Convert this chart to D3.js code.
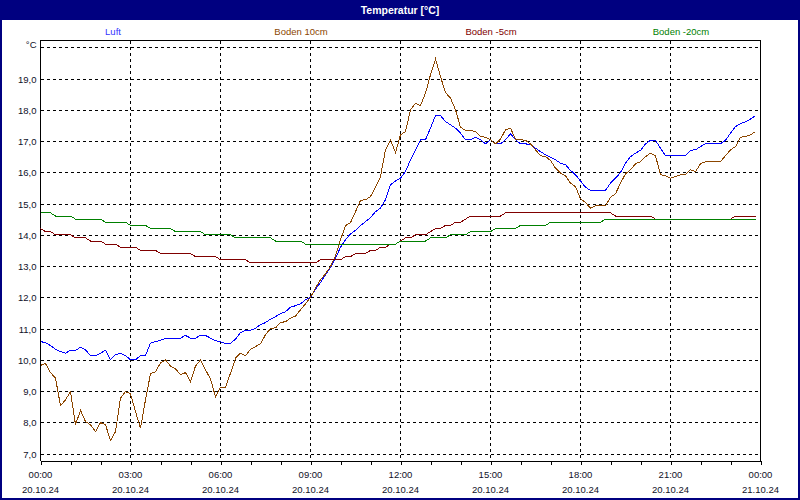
<!DOCTYPE html>
<html>
<head>
<meta charset="utf-8">
<script src="https://cdn.jsdelivr.net/npm/d3@7"></script>
<style>
  html, body { margin: 0; padding: 0; background: #fff; }
  svg { display: block; }
  text { font-family: "Liberation Sans", Arial, sans-serif; }
</style>
</head>
<body>
<svg id="chart" width="800" height="500"></svg>
<script>
// ---- data (10-minute readings, 20.10.24 00:00 .. 23:50) ----
const seriesNames = ["Luft", "Boden 10cm", "Boden -5cm", "Boden -20cm"];
const hourTicks = [0,1,2,3,4,5,6,7,8,9,10,11,12,13,14,15,16,17,18,19,20,21,22,23,24];
const timeLabels = ["00:00","03:00","06:00","09:00","12:00","15:00","18:00","21:00","00:00"];
const dateLabels = ["20.10.24","20.10.24","20.10.24","20.10.24","20.10.24","20.10.24","20.10.24","20.10.24","21.10.24"];
const labelHours = [0,3,6,9,12,15,18,21,24];
const yTicks = [7,8,9,10,11,12,13,14,15,16,17,18,19,20];

const luft = [
  10.58,10.55,10.45,10.34,10.26,10.21,10.30,10.30,10.40,10.32,10.13,10.13,
  10.21,10.30,10.00,10.16,10.21,10.13,10.00,10.00,10.13,10.13,10.53,10.58,
  10.62,10.69,10.69,10.69,10.69,10.78,10.69,10.69,10.78,10.78,10.69,10.61,
  10.58,10.51,10.53,10.66,10.87,10.94,10.94,11.01,11.12,11.19,11.30,11.38,
  11.47,11.54,11.68,11.73,11.79,11.92,12.00,12.26,12.47,12.72,12.95,13.25,
  13.60,13.84,14.03,14.14,14.29,14.42,14.55,14.74,14.85,15.12,15.60,15.72,
  15.81,16.02,16.40,16.72,17.04,17.04,17.41,17.81,17.81,17.62,17.52,17.41,
  17.25,17.04,17.04,17.12,17.04,16.91,17.04,16.91,16.91,17.04,17.23,17.04,
  16.91,16.91,16.88,16.77,16.66,16.56,16.48,16.40,16.29,16.24,16.06,15.92,
  15.72,15.52,15.42,15.42,15.42,15.42,15.65,15.81,15.99,16.29,16.50,16.61,
  16.70,16.91,17.02,17.02,16.77,16.53,16.53,16.53,16.53,16.53,16.70,16.72,
  16.82,16.91,16.91,16.91,16.91,17.02,17.25,17.46,17.55,17.62,17.70,17.81
];
const boden10 = [
  9.82,9.88,9.59,9.41,8.53,8.72,8.98,7.92,8.38,8.02,7.92,7.70,
  7.99,7.92,7.42,7.70,8.77,8.98,8.91,8.34,7.81,8.72,9.55,9.62,
  9.90,9.99,9.80,9.71,9.52,9.59,9.30,9.80,9.99,9.68,9.38,8.82,
  9.12,9.12,9.57,10.05,10.21,10.13,10.34,10.42,10.51,10.80,11.00,11.02,
  11.19,11.22,11.33,11.40,11.60,11.79,12.00,12.29,12.56,12.75,12.98,13.33,
  13.84,14.29,14.39,14.74,15.10,15.12,15.22,15.52,15.86,16.72,17.04,16.63,
  17.20,17.30,18.00,18.21,18.13,18.53,19.12,19.62,19.06,18.55,18.37,18.00,
  17.44,17.34,17.34,17.30,17.14,17.12,17.04,16.91,17.06,17.36,17.41,17.06,
  17.04,17.02,16.91,16.72,16.53,16.50,16.38,16.13,15.97,15.89,15.65,15.54,
  15.15,15.03,14.85,14.93,14.93,14.93,15.20,15.31,15.65,15.95,16.08,16.27,
  16.34,16.50,16.61,16.53,15.92,15.89,15.81,15.86,15.92,15.92,16.08,16.02,
  16.27,16.34,16.34,16.34,16.34,16.53,16.72,16.82,17.12,17.14,17.20,17.30
];
const boden5 = [
  14.2,14.1,14.1,14.0,14.0,14.0,14.0,13.9,13.9,13.9,13.8,13.8,
  13.8,13.7,13.7,13.7,13.6,13.6,13.6,13.6,13.5,13.5,13.5,13.5,
  13.4,13.4,13.4,13.4,13.4,13.4,13.4,13.3,13.3,13.3,13.3,13.3,
  13.2,13.2,13.2,13.2,13.2,13.2,13.1,13.1,13.1,13.1,13.1,13.1,
  13.1,13.1,13.1,13.1,13.1,13.1,13.1,13.1,13.2,13.2,13.2,13.2,
  13.2,13.3,13.3,13.4,13.4,13.4,13.5,13.5,13.6,13.6,13.7,13.7,
  13.8,13.9,13.9,14.0,14.0,14.0,14.1,14.2,14.2,14.3,14.3,14.4,
  14.4,14.5,14.6,14.6,14.6,14.6,14.6,14.6,14.6,14.7,14.7,14.7,
  14.7,14.7,14.7,14.7,14.7,14.7,14.7,14.7,14.7,14.7,14.7,14.7,
  14.7,14.7,14.7,14.7,14.7,14.7,14.7,14.6,14.6,14.6,14.6,14.6,
  14.6,14.6,14.6,14.5,14.5,14.5,14.5,14.5,14.5,14.5,14.5,14.5,
  14.5,14.5,14.5,14.5,14.5,14.5,14.5,14.6,14.6,14.6,14.6,14.6
];
const boden20 = [
  14.7,14.7,14.7,14.6,14.6,14.6,14.6,14.5,14.5,14.5,14.5,14.5,
  14.5,14.4,14.4,14.4,14.4,14.4,14.3,14.3,14.3,14.3,14.2,14.2,
  14.2,14.2,14.2,14.1,14.1,14.1,14.1,14.1,14.1,14.0,14.0,14.0,
  14.0,14.0,14.0,13.9,13.9,13.9,13.9,13.9,13.9,13.9,13.9,13.8,
  13.8,13.8,13.8,13.8,13.8,13.7,13.7,13.7,13.7,13.7,13.7,13.7,
  13.7,13.7,13.7,13.7,13.7,13.7,13.7,13.7,13.7,13.7,13.7,13.7,
  13.8,13.8,13.8,13.8,13.8,13.8,13.9,13.9,13.9,13.9,14.0,14.0,
  14.0,14.0,14.1,14.1,14.1,14.1,14.1,14.2,14.2,14.2,14.2,14.2,
  14.3,14.3,14.3,14.3,14.3,14.3,14.4,14.4,14.4,14.4,14.4,14.4,
  14.4,14.4,14.4,14.4,14.4,14.5,14.5,14.5,14.5,14.5,14.5,14.5,
  14.5,14.5,14.5,14.5,14.5,14.5,14.5,14.5,14.5,14.5,14.5,14.5,
  14.5,14.5,14.5,14.5,14.5,14.5,14.5,14.5,14.5,14.5,14.5,14.5
];
const seriesValues = [luft, boden10, boden5, boden20];
const seriesColors = ["#0000ff", "#8c4600", "#800000", "#008000"];
const legendColors = ["#3333ff", "#8c4600", "#800000", "#008000"];

// ---- layout ----
const svg = d3.select("#chart");
const W = 800, H = 500;
const plot = { left: 40.5, right: 760.5, top: 40.5, bottom: 460.5 };
const textColor = "#101028";

svg.append("rect").attr("x", 0).attr("y", 0).attr("width", W).attr("height", H).attr("fill", "#fff");

// title bar
svg.append("rect").attr("x", 0).attr("y", 0).attr("width", W).attr("height", 20).attr("fill", "#000080");
svg.append("text").attr("x", 400).attr("y", 9.5).attr("text-anchor", "middle")
  .attr("dominant-baseline", "central").attr("fill", "#fff")
  .attr("font-size", "10.5px").attr("font-weight", "bold").text("Temperatur [°C]");

// frame
svg.append("path").attr("d", `M1,20 V499 H799 V20`).attr("fill", "none")
  .attr("stroke", "#000080").attr("stroke-width", 2);

const x = d3.scaleLinear().domain([0, 24]).range([plot.left, plot.right]);
const y = d3.scaleLinear().domain([6.776, 20.216]).range([plot.bottom, plot.top]);

// legend
const legendX = [113, 301, 491, 681];
seriesNames.forEach((n, i) => {
  svg.append("text").attr("x", legendX[i]).attr("y", 31).attr("text-anchor", "middle")
    .attr("dominant-baseline", "central").attr("font-size", "9.5px")
    .attr("fill", legendColors[i]).text(n);
});

// grid
const grid = svg.append("g").attr("stroke", "#000").attr("stroke-dasharray", "3,3")
  .attr("shape-rendering", "crispEdges");
yTicks.forEach(v => {
  grid.append("line").attr("x1", plot.left).attr("x2", plot.right)
    .attr("y1", Math.round(y(v)) + 0.5).attr("y2", Math.round(y(v)) + 0.5);
});
labelHours.slice(1, -1).forEach(h => {
  grid.append("line").attr("x1", x(h)).attr("x2", x(h))
    .attr("y1", plot.top).attr("y2", plot.bottom);
});

// plot border (top/right)
svg.append("path").attr("d", `M${plot.left},${plot.bottom} V${plot.top} H${plot.right} V${plot.bottom}`)
  .attr("fill", "none").attr("stroke", "#000").attr("shape-rendering", "crispEdges");

// x axis
const xAxis = d3.axisBottom(x).tickValues(hourTicks).tickSize(4).tickFormat("");
const gx = svg.append("g").attr("transform", `translate(0,${plot.bottom})`).call(xAxis);
gx.select(".domain").attr("stroke", "#000").attr("shape-rendering", "crispEdges");
gx.selectAll(".tick line").attr("stroke", "#000").attr("shape-rendering", "crispEdges");

labelHours.forEach((h, i) => {
  svg.append("text").attr("x", x(h)).attr("y", 474).attr("text-anchor", "middle")
    .attr("dominant-baseline", "central").attr("font-size", "9.5px").attr("fill", textColor)
    .text(timeLabels[i]);
  svg.append("text").attr("x", x(h)).attr("y", 489).attr("text-anchor", "middle")
    .attr("dominant-baseline", "central").attr("font-size", "9.5px").attr("fill", textColor)
    .text(dateLabels[i]);
});

// y labels
const fmt = v => v.toFixed(1).replace(".", ",");
yTicks.forEach(v => {
  const isTop = v === 20;
  svg.append("text").attr("x", 36.5).attr("y", Math.round(y(v)) + 0.5 - (isTop ? 3 : 0))
    .attr("text-anchor", "end").attr("dominant-baseline", "central")
    .attr("font-size", "9.5px").attr("fill", textColor)
    .text(isTop ? "°C" : fmt(v));
});

// series lines
const line = d3.line().x((d, i) => x(i / 6)).y(d => y(d));
seriesValues.forEach((vals, i) => {
  svg.append("path").datum(vals).attr("d", line).attr("fill", "none")
    .attr("stroke", seriesColors[i]).attr("stroke-width", 1)
    .attr("shape-rendering", "crispEdges");
});
</script>
</body>
</html>
